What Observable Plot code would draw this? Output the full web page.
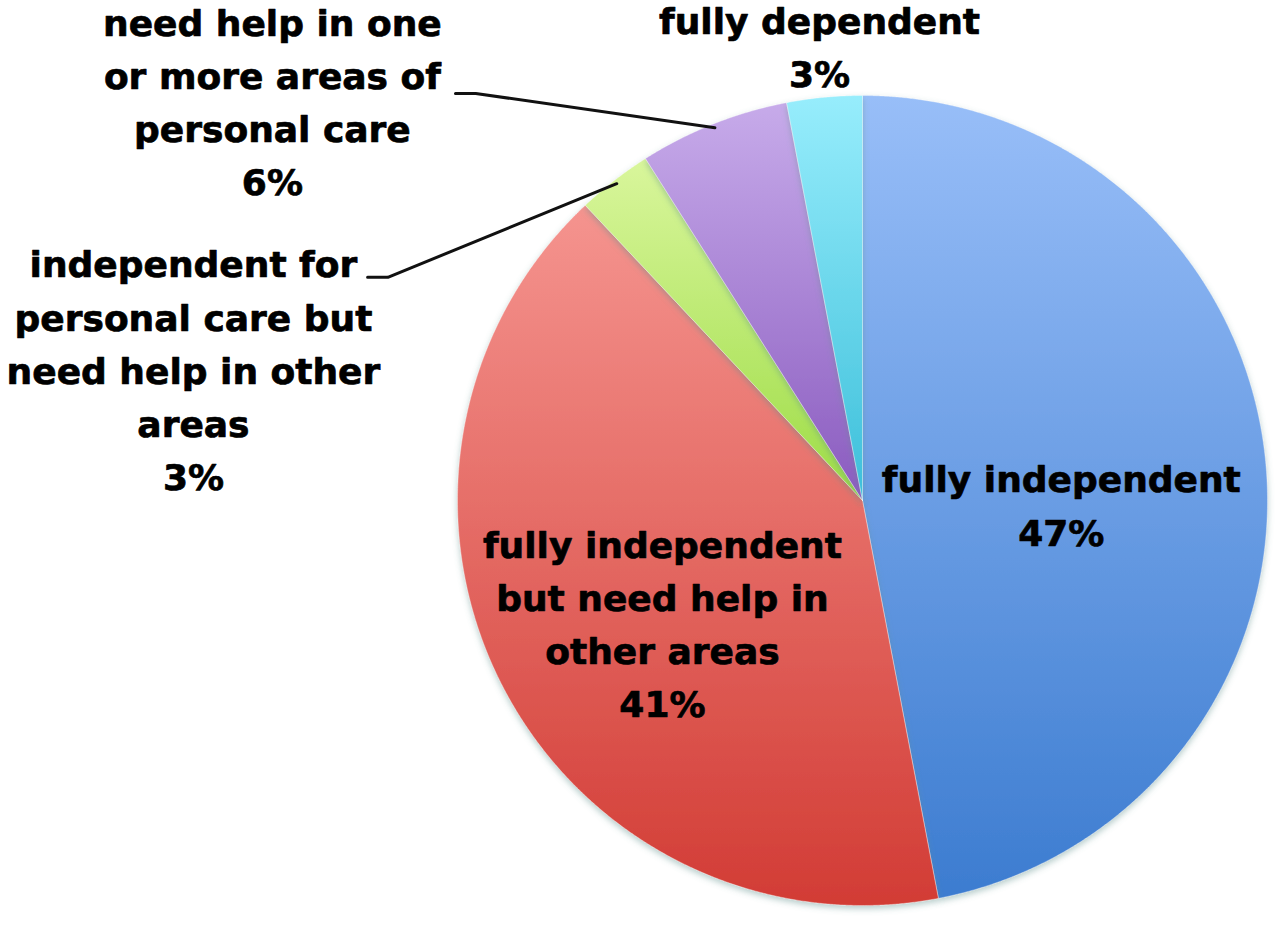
<!DOCTYPE html>
<html>
<head>
<meta charset="utf-8">
<script src="https://cdn.jsdelivr.net/npm/d3@7"></script>
<script src="https://cdn.jsdelivr.net/npm/@observablehq/plot@0.6"></script>
<style>
  html, body { margin: 0; padding: 0; background: #ffffff; }
  #chart { width: 1280px; height: 927px; }
</style>
</head>
<body>
<div id="chart"></div>
<script>
// ---------- data ----------
const categories = [
  "fully independent",
  "fully independent but need help in other areas",
  "independent for personal care but need help in other areas",
  "need help in one or more areas of personal care",
  "fully dependent"
];
const values = [47, 41, 3, 6, 3];
const labelLines = [
  ["fully independent"],
  ["fully independent", "but need help in", "other areas"],
  ["independent for", "personal care but", "need help in other", "areas"],
  ["need help in one", "or more areas of", "personal care"],
  ["fully dependent"]
];
const colorsTop    = ["#98bef8", "#f5948f", "#d9f69c", "#c7abea", "#97edfc"];
const colorsBottom = ["#3c7cd0", "#d23c35", "#9ddc45", "#8a5bbf", "#3cbfda"];

// ---------- layout (pie units: 1 = radius) ----------
const W = 1280, H = 927, CX = 862, CY = 500, R = 405;
const FS = 36, LH = 1.48;
// first-line baseline position of each label
const labelPos = [[0.491, 0.020], [-0.494, -0.141], [-1.652, 0.551], [-1.457, 1.148], [-0.106, 1.153]];
// leader start (near label), horizontal run length, end radius
const leaderStart = [null, null, [-1.222, 0.551], [-1.005, 1.005], null];
const leaderRun = 0.05, leaderEndR = 0.99;

// ---------- build ----------
const arcs = d3.pie().sort(null).value(d => d)(values);
const polar = (a, r) => ({x: r * Math.sin(a), y: r * Math.cos(a)});

const sliceMarks = arcs.map((a, i) => {
  const pts = [{x: 0, y: 0}];
  const n = Math.max(8, Math.ceil((a.endAngle - a.startAngle) / 0.004));
  for (let k = 0; k <= n; ++k) pts.push(polar(a.startAngle + (a.endAngle - a.startAngle) * k / n, 1));
  pts.push({x: 0, y: 0});
  return Plot.line(pts, {
    x: "x", y: "y", fill: `url(#grad${i})`,
    stroke: "#ffffff", strokeOpacity: 0.35, strokeWidth: 1, curve: "linear"
  });
});

const leaderMarks = arcs.map((a, i) => {
  if (!leaderStart[i]) return null;
  const mid = (a.startAngle + a.endAngle) / 2;
  const s = leaderStart[i];
  const pts = [{x: s[0], y: s[1]}, {x: s[0] + leaderRun, y: s[1]}, polar(mid, leaderEndR)];
  return Plot.line(pts, {x: "x", y: "y", stroke: "#111", strokeWidth: 3});
}).filter(Boolean);

const labels = categories.map((c, i) => ({
  x: labelPos[i][0], y: labelPos[i][1],
  text: labelLines[i].join("\n") + "\n" + values[i] + "%"
}));

const chart = Plot.plot({
  width: W, height: H, margin: 0,
  x: {axis: null, domain: [-CX / R, (W - CX) / R], range: [0, W]},
  y: {axis: null, domain: [-(H - CY) / R, CY / R], range: [H, 0]},
  style: {background: "#ffffff", overflow: "visible"},
  marks: [
    ...sliceMarks,
    ...leaderMarks,
    Plot.text(labels, {
      x: "x", y: "y", text: "text",
      fontSize: FS, fontWeight: "bold", fontFamily: "DejaVu Sans, sans-serif",
      fill: "#000", stroke: "#000", strokeWidth: 0.7,
      textAnchor: "middle", lineAnchor: "top", lineHeight: LH,
      dy: -0.71 * LH * FS
    })
  ]
});

// gradients + soft shadow
const ns = "http://www.w3.org/2000/svg";
const defs = document.createElementNS(ns, "defs");
colorsTop.forEach((c, i) => {
  const g = document.createElementNS(ns, "linearGradient");
  g.setAttribute("id", `grad${i}`);
  g.setAttribute("x1", "0"); g.setAttribute("y1", "0");
  g.setAttribute("x2", "0"); g.setAttribute("y2", "1");
  [[0, c], [1, colorsBottom[i]]].forEach(([o, col]) => {
    const s = document.createElementNS(ns, "stop");
    s.setAttribute("offset", o); s.setAttribute("stop-color", col);
    g.appendChild(s);
  });
  defs.appendChild(g);
});
const f = document.createElementNS(ns, "filter");
f.setAttribute("id", "shadow");
f.setAttribute("x", "-10%"); f.setAttribute("y", "-10%");
f.setAttribute("width", "120%"); f.setAttribute("height", "120%");
const ds = document.createElementNS(ns, "feDropShadow");
ds.setAttribute("dx", "0"); ds.setAttribute("dy", "3");
ds.setAttribute("stdDeviation", "3");
ds.setAttribute("flood-color", "#5f8f8c"); ds.setAttribute("flood-opacity", "0.45");
f.appendChild(ds);
defs.appendChild(f);
chart.insertBefore(defs, chart.firstChild);

const groups = chart.querySelectorAll("g[aria-label='line']");
groups.forEach((g, i) => { if (i < sliceMarks.length) g.setAttribute("filter", "url(#shadow)"); });

document.getElementById("chart").appendChild(chart);
</script>
</body>
</html>
